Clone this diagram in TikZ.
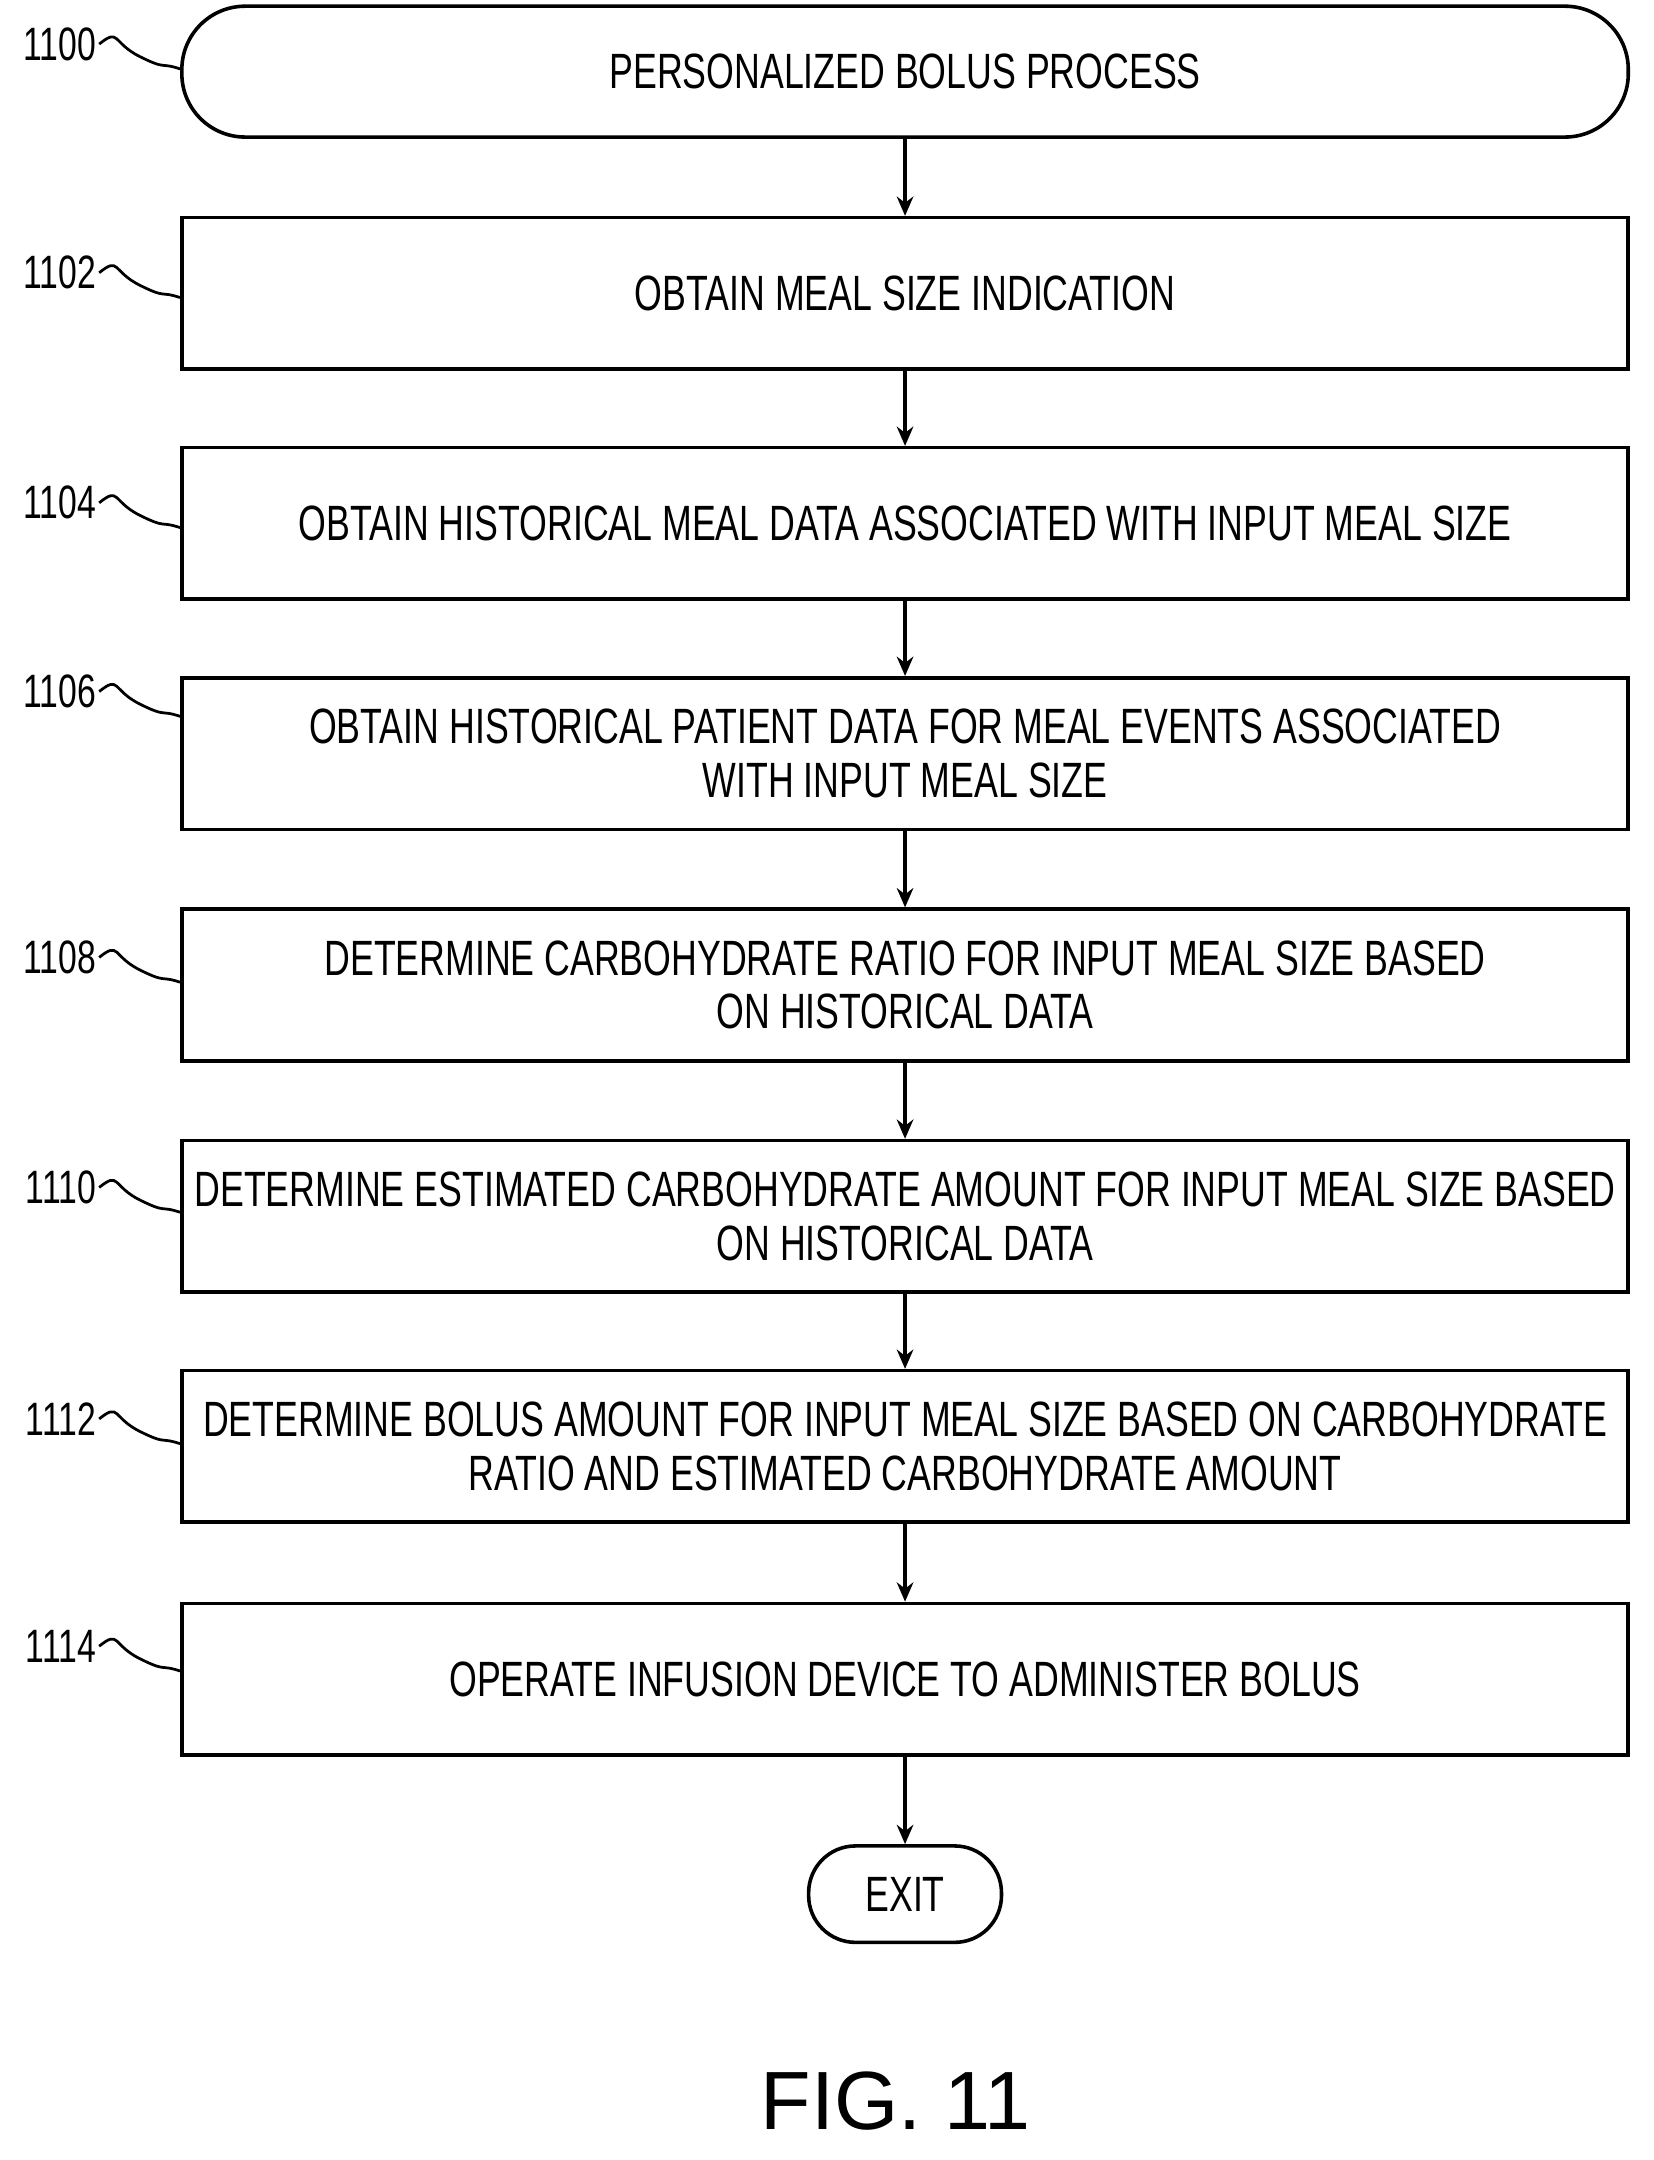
\documentclass[tikz,border=0pt]{standalone}
\usepackage{fontspec}
\setmainfont{Liberation Sans}[FakeStretch=0.72]
\newfontfamily\figfont{Liberation Sans}
\usetikzlibrary{arrows.meta,calc}
\begin{document}
\begin{tikzpicture}[x=0.5pt,y=-0.5pt,
  box/.style={draw,line width=1.3pt,minimum width=525pt,minimum height=55pt,align=center,font=\fontsize{18}{19.5}\selectfont,inner sep=0pt},
  term/.style={draw,line width=1.3pt,rounded corners=23pt,align=center,font=\fontsize{18}{19.5}\selectfont},
  lab/.style={font=\fontsize{17}{18}\selectfont,inner sep=1pt},
  arr/.style={line width=1.3pt,-{Stealth[length=7pt,width=6pt]}},
  sq/.style={line width=1pt}]
\useasboundingbox (0,0) rectangle (1200,1568);
\node[term,minimum width=525pt,minimum height=47.5pt] (s) at (657,52) {PERSONALIZED BOLUS PROCESS};
\node[box] (b2) at (657,213) {OBTAIN MEAL SIZE INDICATION};
\node[box] (b4) at (657,380) {OBTAIN HISTORICAL MEAL DATA ASSOCIATED WITH INPUT MEAL SIZE};
\node[box] (b6) at (657,547) {OBTAIN HISTORICAL PATIENT DATA FOR MEAL EVENTS ASSOCIATED\\WITH INPUT MEAL SIZE};
\node[box] (b8) at (657,715) {DETERMINE CARBOHYDRATE RATIO FOR INPUT MEAL SIZE BASED\\ON HISTORICAL DATA};
\node[box] (b10) at (657,883) {DETERMINE ESTIMATED CARBOHYDRATE AMOUNT FOR INPUT MEAL SIZE BASED\\ON HISTORICAL DATA};
\node[box] (b12) at (657,1050) {DETERMINE BOLUS AMOUNT FOR INPUT MEAL SIZE BASED ON CARBOHYDRATE\\RATIO AND ESTIMATED CARBOHYDRATE AMOUNT};
\node[box] (b14) at (657,1219) {OPERATE INFUSION DEVICE TO ADMINISTER BOLUS};
\node[term,minimum width=70pt,minimum height=35pt,rounded corners=17pt] (e) at (657,1375) {EXIT};
\node[font=\figfont\fontsize{30}{36}\selectfont] (fig) at (650,1525) {FIG. 11};
\draw[arr] (s) -- (b2);
\draw[arr] (b2) -- (b4);
\draw[arr] (b4) -- (b6);
\draw[arr] (b6) -- (b8);
\draw[arr] (b8) -- (b10);
\draw[arr] (b10) -- (b12);
\draw[arr] (b12) -- (b14);
\draw[arr] (b14) -- (e);
\foreach \n/\y/\t in {1100/32/s,1102/198/b2,1104/365/b4,1106/502/b6,1108/695/b8,1110/862/b10,1112/1030/b12,1114/1195/b14}{
  \node[lab,anchor=east] (l\n) at (72,\y) {\n};
  \coordinate (c\n) at (\t.west |- 0,\y+18);
  \draw[sq] (l\n.east) .. controls +(15,-12) and +(-20,-10) .. ($(l\n.east)!0.5!(c\n)$) .. controls +(20,10) and +(-15,-5) .. (c\n);
}
\end{tikzpicture}
\end{document}
